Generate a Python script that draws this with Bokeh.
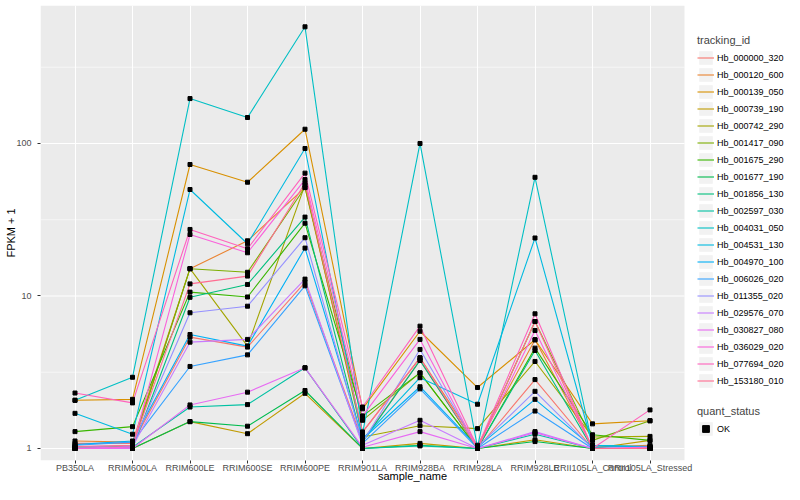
from bokeh.plotting import figure
from bokeh.models import (Range1d, FixedTicker, Legend, LegendItem, BoxAnnotation)
from bokeh.embed import file_html
from bokeh.resources import INLINE

samples = ["PB350LA", "RRIM600LA", "RRIM600LE", "RRIM600SE", "RRIM600PE",
           "RRIM901LA", "RRIM928BA", "RRIM928LA", "RRIM928LE",
           "RRII105LA_Control", "RRII105LA_Stressed"]

tracking_ids = ["Hb_000000_320", "Hb_000120_600", "Hb_000139_050", "Hb_000739_190",
                "Hb_000742_290", "Hb_001417_090", "Hb_001675_290", "Hb_001677_190",
                "Hb_001856_130", "Hb_002597_030", "Hb_004031_050", "Hb_004531_130",
                "Hb_004970_100", "Hb_006026_020", "Hb_011355_020", "Hb_029576_070",
                "Hb_030827_080", "Hb_036029_020", "Hb_077694_020", "Hb_153180_010"]

colors = ["#F8766D", "#EA8331", "#D89000", "#C09B00", "#A3A500", "#7CAE00",
          "#39B600", "#00BB4E", "#00BF7D", "#00C1A3", "#00BFC4", "#00BAE0",
          "#00B0F6", "#35A2FF", "#9590FF", "#C77CFF", "#E76BF3", "#FA62DB",
          "#FF62BC", "#FF6C91"]

hb_000000_320 = [1.08, 1.08, 5.37, 4.62, 12.3, 1.12, 3.78, 1.00, 2.83, 1.00, 1.00]
hb_000120_600 = [1.12, 1.10, 15.1, 23.0, 51.4, 1.28, 3.93, 1.05, 5.16, 1.02, 1.05]
hb_000139_050 = [2.07, 2.10, 72.8, 55.7, 124.0, 1.82, 5.87, 2.51, 5.16, 1.45, 1.52]
hb_000739_190 = [1.00, 1.00, 1.50, 1.25, 2.30, 1.00, 1.08, 1.00, 1.14, 1.00, 1.13]
hb_000742_290 = [1.02, 1.03, 15.1, 4.69, 53.5, 1.19, 1.41, 1.35, 3.72, 1.19, 1.20]
hb_001417_090 = [1.00, 1.04, 15.1, 14.3, 51.4, 1.53, 3.13, 1.00, 6.80, 1.13, 1.52]
hb_001675_290 = [1.29, 1.39, 10.6, 9.85, 30.0, 1.63, 3.13, 1.00, 4.55, 1.23, 1.13]
hb_001677_190 = [1.00, 1.00, 1.50, 1.40, 2.40, 1.00, 1.05, 1.00, 1.11, 1.00, 1.00]
hb_001856_130 = [1.00, 1.00, 9.80, 11.9, 32.9, 1.10, 3.78, 1.00, 4.39, 1.00, 1.00]
hb_002597_030 = [1.00, 1.02, 1.87, 1.94, 3.38, 1.00, 1.04, 1.00, 1.24, 1.00, 1.00]
hb_004031_050 = [2.07, 2.93, 197.0, 148.0, 582.0, 1.25, 100.0, 1.02, 60.0, 1.05, 1.02]
hb_004531_130 = [1.70, 1.24, 49.9, 22.0, 92.7, 1.15, 2.91, 1.95, 24.0, 1.05, 1.03]
hb_004970_100 = [1.06, 1.12, 5.59, 4.69, 20.6, 1.15, 2.54, 1.02, 2.10, 1.02, 1.03]
hb_006026_020 = [1.05, 1.10, 3.45, 4.11, 11.66, 1.08, 2.46, 1.00, 1.76, 1.00, 1.00]
hb_011355_020 = [1.02, 1.05, 7.76, 8.57, 24.1, 1.10, 4.46, 1.02, 2.37, 1.00, 1.00]
hb_029576_070 = [1.00, 1.03, 4.98, 5.19, 12.9, 1.05, 1.53, 1.00, 1.29, 1.00, 1.00]
hb_030827_080 = [1.00, 1.00, 1.93, 2.34, 3.38, 1.02, 1.29, 1.00, 1.27, 1.00, 1.00]
hb_036029_020 = [1.00, 1.02, 25.3, 19.2, 58.0, 1.63, 5.19, 1.00, 5.94, 1.00, 1.02]
hb_077694_020 = [2.31, 1.99, 27.3, 20.4, 63.9, 1.87, 6.34, 1.02, 7.64, 1.00, 1.79]
hb_153180_010 = [1.03, 1.05, 12.0, 13.5, 55.0, 1.28, 3.93, 1.00, 6.80, 1.00, 1.00]

series = [hb_000000_320, hb_000120_600, hb_000139_050, hb_000739_190, hb_000742_290,
          hb_001417_090, hb_001675_290, hb_001677_190, hb_001856_130, hb_002597_030,
          hb_004031_050, hb_004531_130, hb_004970_100, hb_006026_020, hb_011355_020,
          hb_029576_070, hb_030827_080, hb_036029_020, hb_077694_020, hb_153180_010]

y_ticks = [1, 10, 100]
y_minor = [3.1623, 31.623, 316.23]

FONT = "Liberation Sans"
x_pos = list(range(len(samples)))
x_lo, x_hi = -0.6, len(samples) - 1 + 0.6          # ggplot discrete expansion
x_end = x_hi + 100 / 57.5                          # room for the legend inside the frame

p = figure(width=784, height=484,
           x_range=Range1d(x_lo, x_end), y_range=Range1d(0.834, 803), y_axis_type="log",
           output_backend="svg", toolbar_location=None,
           min_border_left=40, min_border_right=0, min_border_top=5,
           min_border_bottom=20)

p.background_fill_color = "white"
p.border_fill_color = "white"
p.outline_line_color = None

# grey panel
p.add_layout(BoxAnnotation(left=x_lo, right=x_hi, fill_color="#EBEBEB", fill_alpha=1,
                           line_color=None, level="image"))

# vertical grid at categories
p.xaxis.ticker = FixedTicker(ticks=x_pos)
p.xaxis.major_label_overrides = {i: s for i, s in zip(x_pos, samples)}
p.xgrid.ticker = FixedTicker(ticks=x_pos)
p.xgrid.grid_line_color = "white"
p.xgrid.grid_line_width = 1.1
p.ygrid.visible = False

# horizontal grid only across the panel
p.segment(x0=[x_lo] * len(y_ticks), x1=[x_hi] * len(y_ticks), y0=y_ticks, y1=y_ticks,
          line_color="white", line_width=1.1, level="underlay")
p.segment(x0=[x_lo] * len(y_minor), x1=[x_hi] * len(y_minor), y0=y_minor, y1=y_minor,
          line_color="white", line_width=0.55, level="underlay")

p.yaxis.ticker = FixedTicker(ticks=y_ticks, minor_ticks=y_minor)
p.yaxis.major_label_overrides = {1: "1", 10: "10", 100: "100"}

for ax in (p.xaxis[0], p.yaxis[0]):
    ax.axis_line_color = None
    ax.major_tick_line_color = "#333333"
    ax.major_tick_out = 3
    ax.major_tick_in = 0
    ax.minor_tick_out = 0
    ax.minor_tick_in = 0
    ax.major_label_text_color = "#4D4D4D"
    ax.major_label_text_font_size = "9px"
    ax.major_label_text_font = FONT
    ax.axis_label_text_font = FONT
    ax.axis_label_text_font_size = "11px"
    ax.axis_label_text_font_style = "normal"
    ax.axis_label_text_color = "black"

p.xaxis.axis_label = "sample_name"
p.yaxis.axis_label = "FPKM + 1"
p.xaxis.major_label_standoff = -1
p.xaxis.axis_label_standoff = -6
p.yaxis.major_label_standoff = 6
p.yaxis.axis_label_standoff = -4

line_renderers = []
for vals, col in zip(series, colors):
    r = p.line(x=x_pos, y=vals, line_color=col, line_width=1.1)
    line_renderers.append(r)

all_x = [i for vals in series for i in x_pos]
all_y = [v for vals in series for v in vals]
pts = p.scatter(x=all_x, y=all_y, marker="square", size=4, color="black")

# legend key background (placed off-screen; only its legend glyph is seen)
key_bg = p.rect(x=[-100], y=[1], width=1, height=1, fill_color="#F2F2F2", line_color=None)

common = dict(title_text_font=FONT, title_text_font_size="11px",
              title_text_font_style="normal", title_standoff=3,
              label_text_font=FONT, label_text_font_size="9px",
              label_text_color="black",
              glyph_width=17, glyph_height=17, label_height=17,
              spacing=0, padding=0, margin=0, label_standoff=3,
              border_line_color=None, background_fill_alpha=0)

legend1 = Legend(items=[LegendItem(label=tid, renderers=[key_bg, r])
                        for tid, r in zip(tracking_ids, line_renderers)],
                 title="tracking_id", location=(657, 71), **common)
legend2 = Legend(items=[LegendItem(label="OK", renderers=[key_bg, pts])],
                 title="quant_status", location=(657, 23), **common)
p.add_layout(legend1)
p.add_layout(legend2)

open("out.html", "w").write(file_html(p, INLINE))
